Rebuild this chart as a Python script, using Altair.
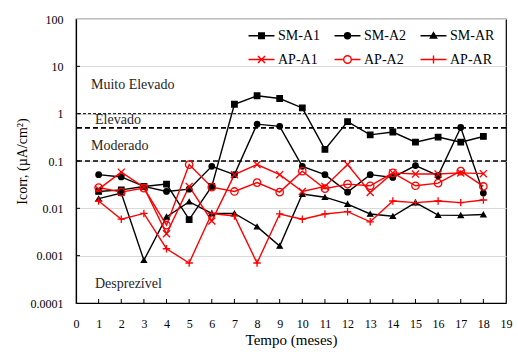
import altair as alt
import pandas as pd

months = list(range(1, 19))
series = ["SM-A1", "SM-A2", "SM-AR", "AP-A1", "AP-A2", "AP-AR"]
values = {
    "SM-A1": [0.0227, 0.0245, 0.029, 0.0325, 0.0058, 0.029, 1.58, 2.39, 2.09, 1.32, 0.176, 0.68, 0.356, 0.41, 0.25, 0.32, 0.25, 0.33],
    "SM-A2": [0.0515, 0.046, 0.029, 0.0227, 0.0254, 0.077, 0.0515, 0.6, 0.54, 0.077, 0.0515, 0.022, 0.0515, 0.045, 0.08, 0.049, 0.51, 0.021],
    "SM-AR": [0.016, 0.021, 0.0008, 0.0066, 0.0138, 0.0078, 0.0078, 0.0041, 0.0016, 0.02, 0.0172, 0.0123, 0.0076, 0.0068, 0.0132, 0.0072, 0.0071, 0.0074],
    "AP-A1": [0.0254, 0.058, 0.028, 0.0029, 0.029, 0.0054, 0.0515, 0.084, 0.0515, 0.0227, 0.029, 0.084, 0.0216, 0.056, 0.053, 0.053, 0.056, 0.054],
    "AP-A2": [0.0275, 0.022, 0.0267, 0.0044, 0.084, 0.028, 0.0227, 0.035, 0.022, 0.061, 0.026, 0.0325, 0.030, 0.056, 0.030, 0.034, 0.061, 0.029],
    "AP-AR": [0.0143, 0.0059, 0.0078, 0.0014, 0.0007, 0.0078, 0.0069, 0.0007, 0.0076, 0.0059, 0.0076, 0.0085, 0.0052, 0.0143, 0.0132, 0.0143, 0.0132, 0.015],
}
x_ticks = list(range(0, 20))
y_ticks = [0.0001, 0.001, 0.01, 0.1, 1, 10, 100]
zone_labels = ["Muito Elevado", "Elevado", "Moderado", "Desprezível"]
zone_x = [0.66, 0.84, 0.66, 0.84]
zone_y = [4.1, 0.73, 0.204, 0.00025]
thin_limit = [1]
thick_limits = [0.5, 0.1]

colors = ["black", "black", "black", "#ff0000", "#ff0000", "#ff0000"]
fills = ["black", "black", "black", "transparent", "transparent", "transparent"]
sizes = [30, 30, 26, 50, 55, 55]
shapes = ["square", "circle", "triangle-up", "M-1,-1L1,1M-1,1L1,-1", "circle", "M-1,0H1M0,-1V1"]
leg_paths = [
    "M-1.73,0H1.73M-0.37,-0.37H0.37V0.37H-0.37Z",
    "M-1.73,0H1.73M0.4,0A0.4,0.4,0,1,1,-0.4,0A0.4,0.4,0,1,1,0.4,0Z",
    "M-1.73,0H1.73M0,-0.42L0.42,0.3H-0.42Z",
    "M-1.73,0H1.73M-0.47,-0.47L0.47,0.47M-0.47,0.47L0.47,-0.47",
    "M-1.73,0H-0.5M0.5,0H1.73M0.5,0A0.5,0.5,0,1,1,-0.5,0A0.5,0.5,0,1,1,0.5,0Z",
    "M-1.73,0H1.73M0,-0.53V0.53",
]

rows = []
for i, s in enumerate(series):
    for m, v in zip(months, values[s]):
        rows.append({"series": s, "month": m, "value": v, "lc": colors[i], "fc": fills[i],
                     "sz": sizes[i], "shp": shapes[i]})
df = pd.DataFrame(rows)

FONT = "Liberation Serif"

xs = alt.Scale(domain=[0, 19], nice=False)
ys = alt.Scale(type="log", domain=[0.0001, 100], nice=False)

X = alt.X("month:Q", scale=xs, axis=alt.Axis(values=x_ticks, title="Tempo (meses)", grid=False,
                                              ticks=False, tickSize=0, labelPadding=15, labelAngle=0,
                                              labelFontSize=12, titleFontSize=15, titlePadding=3,
                                              labelFlush=False, labelOverlap=False,
                                              labelFontWeight="normal", titleFontWeight="normal"))
Y = alt.Y("value:Q", scale=ys, axis=alt.Axis(values=y_ticks, format="~g", title="Icorr, (µA/cm²)",
                                              grid=True, gridColor="#d9d9d9", ticks=False, tickSize=0,
                                              labelPadding=13, labelFontSize=12, titleFontSize=14,
                                              titlePadding=1, labelOverlap=False,
                                              labelFontWeight="normal", titleFontWeight="normal"))

legend = alt.Legend(
    title=None, orient="none", legendX=177, legendY=8, columns=3, direction="horizontal",
    symbolSize=225, labelOffset=8, columnPadding=10, rowPadding=8, padding=0,
    labelFont=FONT, labelFontSize=14, labelColor="black", symbolStrokeWidth=1.4,
    labelFontWeight="normal",
)

base = alt.Chart(df)

lines = base.mark_line(strokeWidth=1.4).encode(
    x=X, y=Y, stroke=alt.Stroke("lc:N", scale=None), detail="series:N", order="month:Q"
)
points = base.mark_point(filled=False, strokeWidth=1.3, opacity=1).encode(
    x=X, y=Y,
    stroke=alt.Stroke("lc:N", scale=None),
    shape=alt.Shape("shp:N", scale=None),
    fill=alt.Fill("fc:N", scale=None),
    size=alt.Size("sz:Q", scale=None),
)
leg_layer = base.transform_filter("datum.month < 0").mark_point(filled=False, strokeWidth=1.4, opacity=1).encode(
    x=X, y=Y,
    color=alt.Color("series:N", scale=alt.Scale(domain=series, range=colors), legend=legend),
    fill=alt.Fill("series:N", scale=alt.Scale(domain=series, range=fills), legend=legend),
    shape=alt.Shape("series:N", scale=alt.Scale(domain=series, range=leg_paths), legend=legend),
)

thin = alt.Chart(pd.DataFrame({"value": thin_limit})).mark_rule(
    color="black", strokeWidth=1, strokeDash=[3, 2]).encode(y=Y)
thick = alt.Chart(pd.DataFrame({"value": thick_limits})).mark_rule(
    color="black", strokeWidth=1.6, strokeDash=[5, 3]).encode(y=Y)

ytk = alt.Chart(pd.DataFrame({"value": y_ticks[1:-1]})).mark_rule(color="black", strokeWidth=1).encode(
    y=Y, x=alt.value(0), x2=alt.value(4))
xtk = alt.Chart(pd.DataFrame({"month": x_ticks[1:-1]})).mark_rule(color="black", strokeWidth=1).encode(
    x=X, y=alt.value(284), y2=alt.value(280))

ann = alt.Chart(pd.DataFrame({"label": zone_labels, "month": zone_x, "value": zone_y})).mark_text(
    align="left", baseline="middle", font=FONT, fontSize=14, color="#262626").encode(
    x=X, y=Y, text="label:N")

chart = alt.layer(lines, thin, thick, ytk, xtk, ann, points, leg_layer).properties(
    width=430, height=284,
    autosize=alt.AutoSizeParams(type="none"),
    padding={"left": 76, "top": 19, "right": 12, "bottom": 51},
).configure(font=FONT).configure_view(stroke="black", strokeWidth=1.2).configure_axis(
    domainColor="black", domainWidth=1.2, labelColor="black", titleColor="black",
    labelFont=FONT, titleFont=FONT, titleFontWeight="normal", labelFontWeight="normal",
)

chart.save("out.html", embed_options={"renderer": "svg", "actions": False})
